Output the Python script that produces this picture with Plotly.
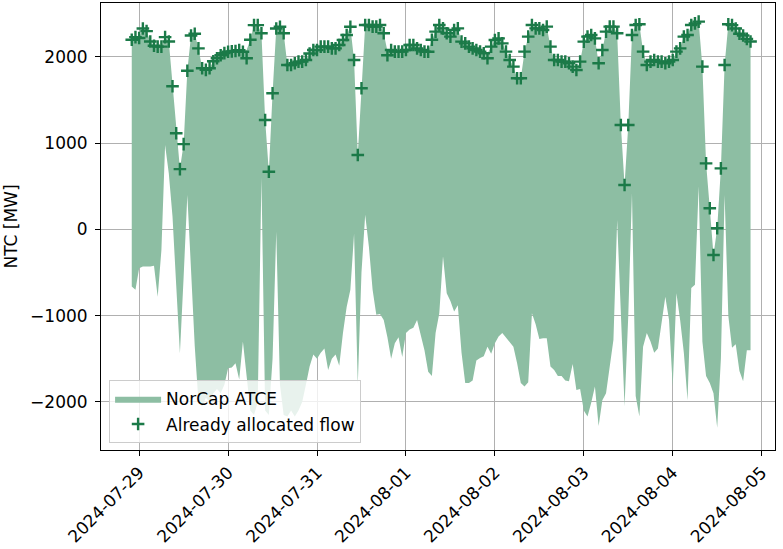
import pandas as pd
import plotly.graph_objects as go

# Hourly timestamps (UTC) from 2024-07-28 22:00, one week
times = pd.date_range("2024-07-28 22:00", periods=168, freq="h")

allocated_flow = [
    2200, 2230, 2220, 2330, 2300, 2180, 2130, 2120, 2120, 2230,
    2180, 1660, 1115, 700, 990, 1840, 2250, 2270, 2100, 1870,
    1850, 1870, 1950, 1985, 2020, 2045, 2060, 2065, 2070, 2080,
    2060, 1985, 2200, 2370, 2370, 2275, 1270, 670, 1580, 2330,
    2350, 2275, 1907, 1907, 1927, 1946, 1946, 1965, 2040, 2081,
    2081, 2120, 2120, 2120, 2100, 2100, 2139, 2197, 2255, 2350,
    1965, 864, 1637, 2371, 2371, 2352, 2352, 2371, 2275, 2020,
    2081, 2062, 2062, 2062, 2081, 2139, 2139, 2100, 2081, 2062,
    2060, 2200, 2294, 2371, 2332, 2275, 2236, 2313, 2332, 2178,
    2158, 2120, 2100, 2081, 2062, 2043, 1985, 2120, 2197, 2216,
    2158, 2062, 1965, 1888, 1753, 1753, 2062, 2236, 2371, 2332,
    2332, 2313, 2352, 2120, 1965, 1965, 1946, 1946, 1927, 1888,
    1849, 1946, 2178, 2236, 2255, 2216, 1927, 2081, 2294, 2352,
    2352, 2275, 1212, 516, 1212, 2255, 2371, 2380, 2062, 1907,
    1946, 1965, 1946, 1946, 1927, 1946, 1965, 2062, 2100, 2236,
    2255, 2371, 2390, 2410, 1888, 767, 246, -296, 14, 709,
    1907, 2380, 2370, 2330, 2270, 2250, 2210, 2180,
]

atce_upper = list(allocated_flow)
atce_upper[31] = 2080
atce_upper[69] = 2070
atce_upper[96] = 2040

atce_lower = [
    -660, -700, -450, -430, -430, -430, -420, -780, -240, 980,
    650, 150, -650, -1435, -550, 400, -470, -1350, -2000, -2050,
    -1950, -2000, -1900, -1850, -1900, -1800, -1610, -1600, -1550, -1740,
    -1300, -1740, -2100, -2150, -2000, 600, -2100, -2150, -1500, -25,
    -1800, -2150, -2170, -2100, -2170, -2100, -2000, -1800, -1590, -1450,
    -1500, -1430, -1380, -1630, -1500, -1450, -1580, -1200, -900, -700,
    -50, -1800, -500, 170, -200, -700, -990, -980, -1050, -1250,
    -1500, -1320, -1250, -1480, -1200, -1160, -1140, -1050, -1240, -1400,
    -1650, -1700, -1200, -970, -310, -740, -830, -950, -880, -1430,
    -1780, -1780, -1750, -1520, -1490, -1470, -1360, -1440, -1320, -1240,
    -1200, -1250, -1300, -1360, -1550, -1780, -1820, -1770, -970, -1100,
    -1270, -1260, -1260, -1590, -1630, -1700, -1700, -1750, -1760, -1560,
    -1860, -1850, -2100, -2170, -2010, -1820, -2280, -1980, -1900, -1600,
    -1280, 110, -900, -2050, -1000, 420, -1930, -2170, -1360, -1200,
    -1300, -1430, -1380, -1100, -780, -1050, -1820, -740, -1050, -1430,
    -1980, -680, -640, 500, -1300, -1700, -1780, -1900, -2300, -1500,
    400, -1000, -1370, -1330, -1640, -1760, -1400, -1400,
]

assert len(allocated_flow) == 168 and len(atce_lower) == 168

y_ticks = [-2000, -1000, 0, 1000, 2000]
y_tick_labels = ["\u22122000", "\u22121000", "0", "1000", "2000"]
x_ticks = pd.date_range("2024-07-29", "2024-08-05", freq="D")
x_tick_labels = [d.strftime("%Y-%m-%d") for d in x_ticks]

FILL = "#8dbea3"
MARK = "#1b7a48"
FONT = "DejaVu Sans"
FS = 17

fig = go.Figure()
fig.add_trace(go.Scatter(x=times, y=atce_lower, mode="lines",
                         line=dict(width=0, color=FILL), showlegend=False,
                         hoverinfo="skip"))
fig.add_trace(go.Scatter(x=times, y=atce_upper, mode="lines", fill="tonexty",
                         fillcolor=FILL, line=dict(width=0, color=FILL),
                         name="NorCap ATCE"))
fig.add_trace(go.Scatter(x=times, y=allocated_flow, mode="markers",
                         marker=dict(symbol="cross-thin", size=9,
                                     line=dict(width=2.4, color=MARK), color=MARK),
                         name="Already allocated flow"))

base = pd.Timestamp("2024-07-29 00:00")
x_left = base + pd.Timedelta(hours=-10.3)
x_right = base + pd.Timedelta(hours=171.6)

fig.update_layout(
    width=783, height=549,
    margin=dict(l=101, r=8, t=3, b=99, autoexpand=False),
    plot_bgcolor="white", paper_bgcolor="white",
    font=dict(family=FONT, size=FS, color="black"),
    legend=dict(x=0.012, y=0.015, xanchor="left", yanchor="bottom",
                bgcolor="rgba(255,255,255,0.8)", bordercolor="#cccccc",
                borderwidth=1, font=dict(size=FS), itemwidth=46,
                traceorder="normal", tracegroupgap=0),
    showlegend=True,
)
fig.update_xaxes(range=[x_left, x_right], tickvals=list(x_ticks),
                 ticktext=x_tick_labels, tickangle=-45, automargin=False,
                 showline=True, mirror=True, linecolor="black", linewidth=1,
                 ticks="outside", ticklen=5, tickcolor="black",
                 showgrid=True, gridcolor="#b0b0b0", gridwidth=0.8,
                 zeroline=False, tickfont=dict(size=FS))
fig.update_yaxes(range=[-2557, 2626], tickvals=y_ticks, ticktext=y_tick_labels,
                 automargin=False, ticklabelstandoff=4,
                 showline=True, mirror=True, linecolor="black", linewidth=1,
                 ticks="outside", ticklen=5, tickcolor="black",
                 showgrid=True, gridcolor="#b0b0b0", gridwidth=0.8,
                 zeroline=False, tickfont=dict(size=FS),
                 title=dict(text="NTC [MW]", font=dict(size=FS), standoff=8))

fig.write_html("out.html", config={"displayModeBar": False},
               post_script="document.body.style.margin='0';document.body.style.padding='0';")
